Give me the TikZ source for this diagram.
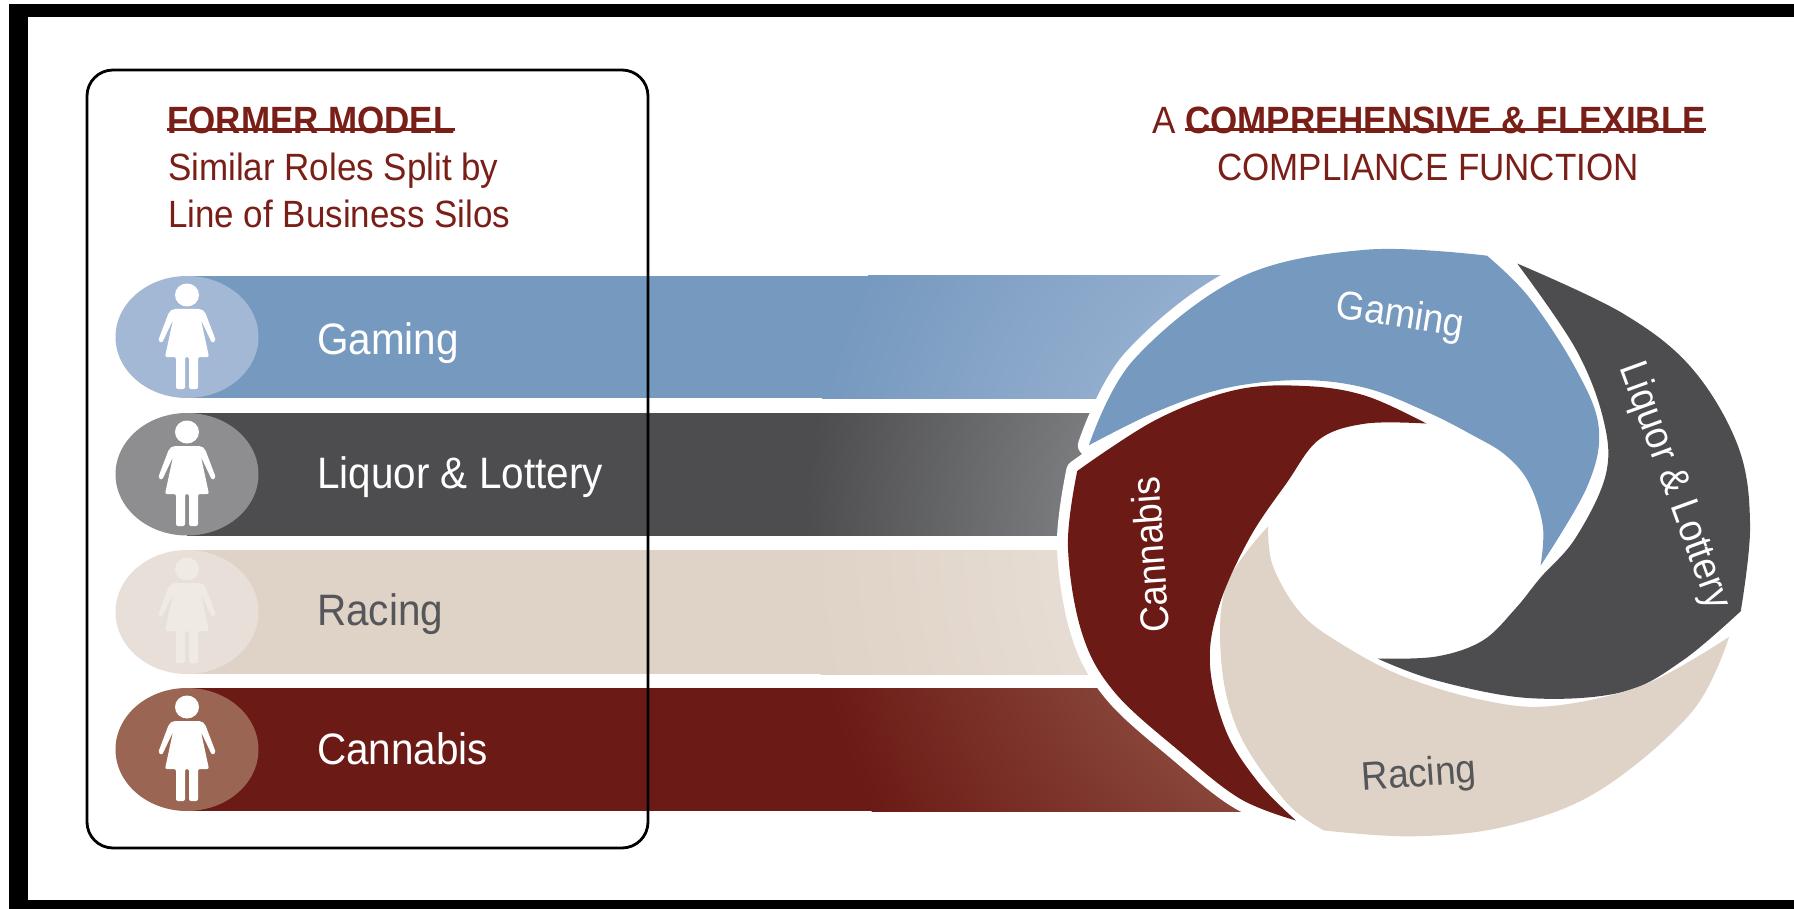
\documentclass[tikz,border=0pt]{standalone}
\usepackage{fontspec}
\setmainfont[FakeStretch=0.92]{Liberation Sans}
\definecolor{blueB}{HTML}{7699BF}
\definecolor{blueL}{HTML}{B4C6DF}
\definecolor{blueC}{HTML}{A3B8D5}
\definecolor{darkB}{HTML}{4D4D4F}
\definecolor{darkL}{HTML}{B2B5B8}
\definecolor{darkC}{HTML}{8E8E90}
\definecolor{tanB}{HTML}{DFD2C6}
\definecolor{tanL}{HTML}{F0EAE4}
\definecolor{tanC}{HTML}{E8E0D8}
\definecolor{redB}{HTML}{6B1A15}
\definecolor{redL}{HTML}{A87460}
\definecolor{redC}{HTML}{9A6552}
\definecolor{headred}{HTML}{7A1E18}
\definecolor{racegrey}{HTML}{55565A}
\newcommand\fs[1]{\fontsize{#1}{#1}\selectfont}
\tikzset{
  personicon/.pic={
    \fill[pic actions] (0,19) ellipse (12 and 11.5);
    \fill[pic actions,rounded corners=2pt] (-14,33) -- (14,33) -- (18,36) -- (29,65) -- (25,67) -- (14,44) -- (22,81) -- (11,81)
      -- (11,113) -- (2,113) -- (2,81) -- (-2,81) -- (-2,113) -- (-11,113) -- (-11,81) -- (-22,81) -- (-14,44)
      -- (-25,67) -- (-29,65) -- (-18,36) -- cycle;
  },
  barlabel/.style={anchor=base west,inner sep=0pt,font=\fs{44}},
  headline/.style={anchor=base west,inner sep=0pt,text=headred,font=\fs{38}},
  ringlabel/.style={inner sep=0pt,font=\fs{40}},
  halo/.style={draw=white,line width=22pt,line join=round},
  spiral/.style={x=0.4656pt,y=-0.395pt},
}
% one bar: top, bottom, base, light, circle, end x, icon colour
\newcommand\barrow[7]{%
  \fill[#3] (187,#1) rectangle (#6,#2);
  \begin{scope}
    \clip (187,#1) rectangle (#6,#2);
    \shade[inner color=#4,outer color=#3] (1390,540) circle (585);
  \end{scope}
  \fill[#5] (187,{(#1+#2)/2}) ellipse (71.5 and {(#2-#1)/2});
  \path[fill=#7] (187,#1) pic[fill=#7] {personicon};
}
\newcommand\gamingpath{plot[smooth,tension=.6] coordinates {(105,545) (200,330) (430,120) (700,50) (960,65)}
  -- plot[smooth,tension=.6] coordinates {(960,65) (1050,170) (1150,350) (1200,500) (1175,650) (1075,850)}
  -- plot[smooth,tension=.6] coordinates {(1075,850) (1080,750) (1050,640) (1000,570) (930,520) (830,460) (700,400) (560,380) (400,400) (250,460) (105,545)} -- cycle}
\newcommand\liquorpath{plot[smooth,tension=.6] coordinates {(1025,85) (1250,210) (1400,350) (1500,550) (1525,750) (1505,965)}
  -- plot[smooth,tension=.6] coordinates {(1505,965) (1380,1090) (1250,1170) (1050,1185) (850,1140) (725,1085)}
  -- plot[smooth,tension=.6] coordinates {(725,1085) (850,1080) (950,1040) (1020,960) (1075,880) (1150,780) (1215,620) (1210,480) (1150,300) (1025,85)} -- cycle}
\newcommand\racingpath{plot[smooth,tension=.6] coordinates {(490,750) (500,850) (560,970) (650,1050) (780,1130) (950,1190) (1100,1205) (1300,1150) (1480,1030)}
  -- plot[smooth,tension=.6] coordinates {(1480,1030) (1400,1220) (1200,1420) (1000,1510) (800,1535) (610,1520)}
  -- plot[smooth,tension=.6] coordinates {(610,1520) (530,1450) (430,1280) (390,1100) (400,900) (490,750)} -- cycle}
\newcommand\cannabispath{plot[smooth,tension=.6] coordinates {(830,490) (700,490) (600,530) (530,640) (450,780) (385,950) (365,1100) (400,1270) (470,1400) (550,1495)}
  -- plot[smooth,tension=.6] coordinates {(550,1495) (430,1440) (300,1320) (160,1170) (90,1020) (60,800) (80,610)}
  -- plot[smooth,tension=.6] coordinates {(80,610) (250,480) (420,405) (570,395) (700,420) (830,490)} -- cycle}
\begin{document}
\begin{tikzpicture}[x=1pt,y=-1pt]
\useasboundingbox (0,0) rectangle (1794,909);
\fill[white] (0,0) rectangle (1794,909);
% black frame
\fill[black] (9,4) rectangle (1794,17);
\fill[black] (9,4) rectangle (28,909);
\fill[black] (9,900) rectangle (1794,909);
% bars
\barrow{276}{398}{blueB}{blueL}{blueC}{1260}{white}
\barrow{413}{535.5}{darkB}{darkL}{darkC}{1175}{white}
\barrow{550}{674}{tanB}{tanL}{tanC}{1175}{tanL}
\barrow{688}{811}{redB}{redL}{redC}{1285}{white}
% bar labels
\node[barlabel,text=white] (lGaming) at (317,355) {Gaming};
\node[barlabel,text=white] (lLiquor) at (317,488.5) {Liquor \& Lottery};
\node[barlabel,text=racegrey] (lRacing) at (317,625) {Racing};
\node[barlabel,text=white] (lCannabis) at (317,764) {Cannabis};
% left box
\draw[black,line width=2.8pt,rounded corners=26pt] (87,70) rectangle (648,848);
% headings
\node[headline,font=\fs{38}\bfseries] (fm) at (167,134) {FORMER MODEL};
\draw[headred,line width=2.5pt] ([yshift=4.5pt]fm.base west) -- ([yshift=4.5pt]fm.base east);
\node[headline] (sr) at (168,181) {Similar Roles Split by};
\node[headline] (lb) at (168,228) {Line of Business Silos};
\node[headline,anchor=base west,font=\fs{38}\bfseries] (cf) at (1185,134) {COMPREHENSIVE \& FLEXIBLE};
\node[headline,anchor=base east] (ca) at (1176,134) {A};
\draw[headred,line width=2.5pt] ([yshift=4.5pt]cf.base west) -- ([yshift=4.5pt]cf.base east);
\node[headline,anchor=base] (cc) at (1428,181) {COMPLIANCE FUNCTION};
% spiral
\begin{scope}[shift={(1040,230)},spiral]
  \path[halo] \gamingpath;
  \path[halo] \liquorpath;
  \path[halo] \racingpath;
  \path[halo] \cannabispath;
  \fill[blueB] \gamingpath;
  \fill[darkB] \liquorpath;
  \fill[tanB] \racingpath;
  \fill[redB] \cannabispath;
\end{scope}
\node[ringlabel,text=white,rotate=-9] (rGaming) at (1400,317) {Gaming};
\node[ringlabel,text=white,rotate=-70] (rLiquor) at (1674,486) {Liquor \& Lottery};
\node[ringlabel,text=racegrey,rotate=4] (rRacing) at (1419,776) {Racing};
\node[ringlabel,text=white,rotate=94] (rCannabis) at (1150,555) {Cannabis};
\end{tikzpicture}
\end{document}
